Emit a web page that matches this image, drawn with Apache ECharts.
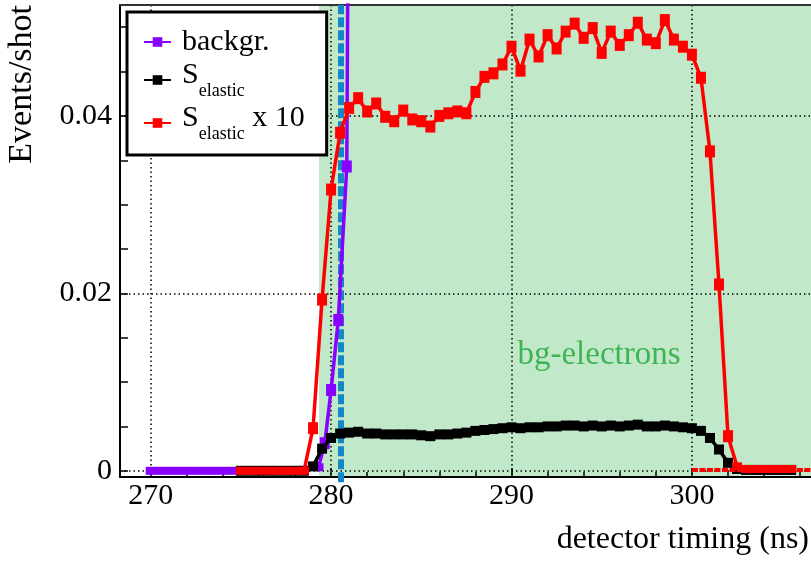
<!DOCTYPE html>
<html><head><meta charset="utf-8">
<script src="https://cdn.jsdelivr.net/npm/echarts@6/dist/echarts.min.js"></script>
<style>html,body{margin:0;padding:0;background:#fff}#c{width:811px;height:561px}</style>
</head><body><div id="c"></div>
<script>
const FONT = 'Liberation Serif';
const xRange = [268.3, 306.6];
const yRange = [-0.0007, 0.0525];

const seriesNames = ['backgr.', 'S_elastic', 'S_elastic x 10'];

const bgTimes = [270, 270.5, 271, 271.5, 272, 272.5, 273, 273.5, 274, 274.5, 279.3, 279.65, 280.0, 280.4, 280.87, 281.3];
const bgValues = [0, 0, 0, 0, 0, 0, 0, 0, 0, 0, 0.0004, 0.0031, 0.0091, 0.0170, 0.0343, 0.195];

const sigTimes = [275, 275.5, 276, 276.5, 277, 277.5, 278, 278.5, 279, 279.5, 280, 280.5, 281, 281.5, 282, 282.5, 283, 283.5,
  284, 284.5, 285, 285.5, 286, 286.5, 287, 287.5, 288, 288.5, 289, 289.5, 290, 290.5, 291, 291.5, 292, 292.5, 293, 293.5,
  294, 294.5, 295, 295.5, 296, 296.5, 297, 297.5, 298, 298.5, 299, 299.5, 300, 300.5, 301, 301.5, 302, 302.5,
  303, 303.5, 304, 304.5, 305, 305.5];
const sigValues = [0, 0, 0, 0, 0, 0, 0, 0,
  0.0005, 0.0025, 0.0037, 0.0042, 0.0043, 0.0044, 0.0042, 0.0042, 0.0041, 0.0041,
  0.0041, 0.0041, 0.0040, 0.0039, 0.0041, 0.0041, 0.0042, 0.0043, 0.0045, 0.0046,
  0.0047, 0.0048, 0.0049, 0.0048, 0.0049, 0.0049, 0.0050, 0.0050, 0.0051, 0.0051,
  0.0050, 0.0051, 0.0050, 0.0051, 0.0050, 0.0051, 0.0052, 0.0050, 0.0050, 0.0051,
  0.0050, 0.0049, 0.0048, 0.0045, 0.0037, 0.0024, 0.0009, 0.0002,
  0.0001, 0.0001, 0.0001, 0.0001, 0.0001, 0.0001];
const sigX10Values = [0, 0, 0, 0, 0, 0, 0, 0,
  0.0048, 0.0193, 0.0317, 0.0381, 0.0409, 0.0420, 0.0405, 0.0414, 0.0399, 0.0394,
  0.0406, 0.0396, 0.0394, 0.0388, 0.0400, 0.0403, 0.0405, 0.0403, 0.0427, 0.0444,
  0.0448, 0.0458, 0.0478, 0.0451, 0.0486, 0.0467, 0.0491, 0.0476, 0.0495, 0.0504,
  0.0488, 0.0499, 0.0471, 0.0495, 0.0480, 0.0491, 0.0505, 0.0486, 0.0482, 0.0508,
  0.0486, 0.0478, 0.0469, 0.0443, 0.0360, 0.0210, 0.0039, 0.0005,
  0.0002, 0.0002, 0.0002, 0.0002, 0.0002, 0.0002];

const baseLineTimes = [300, 306.6];
const baseLineValues = [0.0001, 0.0001];

const cutTimes = [280.55, 280.55];
const cutValues = [-0.0013, 0.0525];

const regionTimes = [279.33, 306.6];
const regionLabel = 'bg-electrons';

const xTickLabels = [270, 280, 290, 300];
const xMinorTicks = [272, 274, 276, 278, 282, 284, 286, 288, 292, 294, 296, 298, 302, 304, 306];
const yTickLabels = [0, 0.02, 0.04];
const yMinorTicks = [0.005, 0.01, 0.015, 0.025, 0.03, 0.035, 0.045, 0.05];

const pairs = (xs, ys) => xs.map((x, i) => [x, ys[i]]);

const COL_BG = '#8800ff', COL_SIG = '#000000', COL_SIG10 = '#ff0000', COL_CUT = '#1288c6';
const COL_AREA = '#c2e8ca', COL_AREA_TXT = '#3fb453';

const gridLine = { show: true, lineStyle: { color: '#000', type: [1.5, 3], width: 1.5 } };
const tickStyle = { color: '#000', width: 1.5 };
const markerSize = v => (v[1] > 0.002 ? [10, 12] : [10, 8]);

const chart = echarts.init(document.getElementById('c'), null, { renderer: 'canvas' });
chart.setOption({
  animation: false,
  backgroundColor: '#ffffff',
  grid: { left: 120, right: 0, top: 5, bottom: 84, containLabel: false },
  xAxis: [
    { type: 'value', min: xRange[0], max: xRange[1], minInterval: 10, maxInterval: 10, position: 'bottom', z: 1.5,
      axisLine: { show: true, onZero: false, lineStyle: { color: '#000', width: 2 } },
      axisTick: { show: true, inside: true, length: 9, customValues: xTickLabels, lineStyle: tickStyle },
      axisLabel: { customValues: xTickLabels, fontFamily: FONT, fontSize: 30, color: '#000', margin: 4 },
      splitLine: gridLine },
    { type: 'value', min: xRange[0], max: xRange[1], position: 'bottom', z: 1.5,
      axisLine: { show: false, onZero: false },
      axisTick: { show: true, inside: true, length: 5, customValues: xMinorTicks, lineStyle: tickStyle },
      axisLabel: { show: false }, splitLine: { show: false } },
    { type: 'value', min: xRange[0], max: xRange[1], position: 'top', z: 1.5,
      axisLine: { show: true, onZero: false, lineStyle: { color: '#333', width: 2 } },
      axisTick: { show: false }, axisLabel: { show: false }, splitLine: { show: false } }
  ],
  yAxis: [
    { type: 'value', min: yRange[0], max: yRange[1], minInterval: 0.02, maxInterval: 0.02, position: 'left', z: 1.5,
      axisLine: { show: true, onZero: false, lineStyle: { color: '#000', width: 2 } },
      axisTick: { show: true, inside: true, length: 8, customValues: yTickLabels, lineStyle: tickStyle },
      axisLabel: { customValues: yTickLabels, fontFamily: FONT, fontSize: 30, color: '#000', margin: 8,
        formatter: v => (Math.abs(v) < 1e-9 ? '0' : v.toFixed(2)) },
      splitLine: gridLine },
    { type: 'value', min: yRange[0], max: yRange[1], position: 'left', z: 1.5,
      axisLine: { show: false, onZero: false },
      axisTick: { show: true, inside: true, length: 8, customValues: yMinorTicks, lineStyle: tickStyle },
      axisLabel: { show: false }, splitLine: { show: false } }
  ],
  legend: {
    orient: 'vertical', left: 127, top: 12, z: 10,
    backgroundColor: '#ffffff', borderColor: '#000', borderWidth: 3, borderRadius: 0,
    padding: [15, 22, 12, 16], itemGap: 3, itemWidth: 27, itemHeight: 12,
    data: seriesNames,
    formatter: name => {
      if (name === seriesNames[0]) return '{b|backgr.}';
      if (name === seriesNames[1]) return '{a|S}{s|elastic}';
      return '{a|S}{s|elastic}{m| x 10}';
    },
    textStyle: { fontFamily: FONT, fontSize: 30, color: '#000',
      rich: {
        b: { fontFamily: FONT, fontSize: 30, lineHeight: 32, verticalAlign: 'middle', padding: [0, 0, 0, 6], color: '#000' },
        a: { fontFamily: FONT, fontSize: 30, lineHeight: 40, verticalAlign: 'top', padding: [0, 0, 0, 6], color: '#000' },
        m: { fontFamily: FONT, fontSize: 30, lineHeight: 40, verticalAlign: 'top', color: '#000' },
        s: { fontFamily: FONT, fontSize: 18, lineHeight: 18, verticalAlign: 'bottom', color: '#000' }
      } }
  },
  graphic: [
    { type: 'text', x: 22, y: 5, rotation: Math.PI / 2, z: 100,
      style: { text: 'Events/shot', font: '34px "Liberation Serif"', fill: '#000',
        align: 'right', textAlign: 'right', verticalAlign: 'middle', textVerticalAlign: 'middle' } },
    { type: 'text', x: 809, y: 540, z: 100,
      style: { text: 'detector timing (ns)', font: '32px "Liberation Serif"', fill: '#000',
        align: 'right', textAlign: 'right', verticalAlign: 'middle', textVerticalAlign: 'middle' } },
    { type: 'text', x: 599, y: 355, z: 100,
      style: { text: regionLabel, font: '33px "Liberation Serif"', fill: COL_AREA_TXT,
        align: 'center', textAlign: 'center', verticalAlign: 'middle', textVerticalAlign: 'middle' } }
  ],
  series: [
    { name: 'cut', type: 'line', data: pairs(cutTimes, cutValues), clip: false, z: 2.5,
      symbol: 'none', silent: true,
      lineStyle: { color: COL_CUT, width: 6, type: [10, 3] },
      markArea: { silent: true, z: 1, itemStyle: { color: COL_AREA, opacity: 1 },
        data: [[{ xAxis: regionTimes[0] }, { xAxis: regionTimes[1] }]] } },
    { name: seriesNames[0], type: 'line', data: pairs(bgTimes, bgValues), z: 3,
      symbol: 'rect', symbolSize: markerSize, showAllSymbol: true,
      itemStyle: { color: COL_BG }, lineStyle: { color: COL_BG, width: 3.5 } },
    { name: seriesNames[1], type: 'line', data: pairs(sigTimes, sigValues), z: 4,
      symbol: 'rect', symbolSize: [10, 10], showAllSymbol: true,
      itemStyle: { color: COL_SIG }, lineStyle: { color: COL_SIG, width: 3.5 } },
    { name: 'base', type: 'line', data: pairs(baseLineTimes, baseLineValues), z: 4.5,
      symbol: 'none', silent: true,
      lineStyle: { color: COL_SIG10, width: 4, type: [6, 1.5] } },
    { name: seriesNames[2], type: 'line', data: pairs(sigTimes, sigX10Values), z: 5,
      symbol: 'rect', symbolSize: markerSize, showAllSymbol: true,
      itemStyle: { color: COL_SIG10 }, lineStyle: { color: COL_SIG10, width: 3.5 } }
  ]
});
</script></body></html>
